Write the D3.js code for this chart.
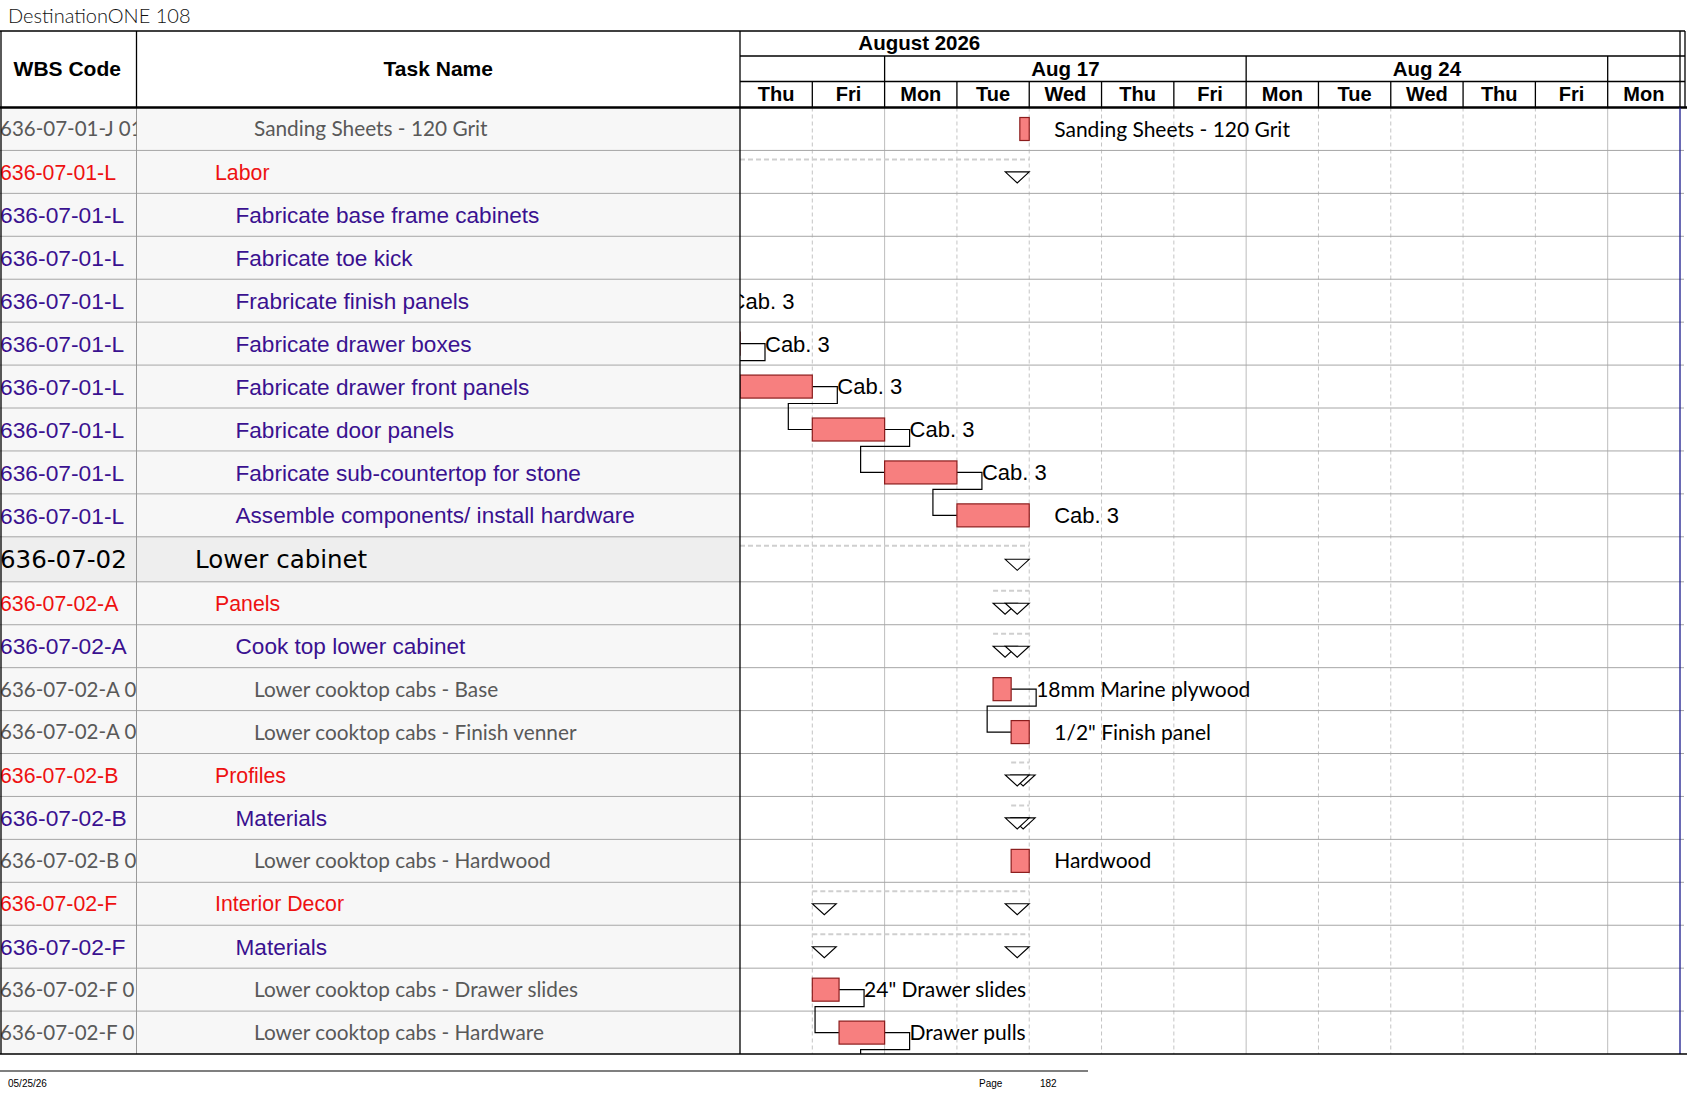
<!DOCTYPE html>
<html>
<head>
<meta charset="utf-8">
<script src="https://cdn.jsdelivr.net/npm/d3@7"></script>
<style>
  body { margin: 0; background: #fff; }
  svg { display: block; }
</style>
</head>
<body>
<svg id="chart"></svg>
<script>
// timescale (working days only, weekends hidden)
const monthLabel = "August 2026";
const days = ["Thu", "Fri", "Mon", "Tue", "Wed", "Thu", "Fri", "Mon", "Tue", "Wed", "Thu", "Fri", "Mon"];
const weekLabels = ["", "Aug 17", "Aug 24", ""];

// table rows
const wbsCodes = [
  "636-07-01-J 01", "636-07-01-L", "636-07-01-L", "636-07-01-L", "636-07-01-L",
  "636-07-01-L", "636-07-01-L", "636-07-01-L", "636-07-01-L", "636-07-01-L",
  "636-07-02", "636-07-02-A", "636-07-02-A", "636-07-02-A 0", "636-07-02-A 0",
  "636-07-02-B", "636-07-02-B", "636-07-02-B 0", "636-07-02-F", "636-07-02-F",
  "636-07-02-F 0", "636-07-02-F 0"
];
const taskNames = [
  "Sanding Sheets - 120 Grit", "Labor", "Fabricate base frame cabinets", "Fabricate toe kick",
  "Frabricate finish panels", "Fabricate drawer boxes", "Fabricate drawer front panels",
  "Fabricate door panels", "Fabricate sub-countertop for stone", "Assemble components/ install hardware",
  "Lower cabinet", "Panels", "Cook top lower cabinet", "Lower cooktop cabs - Base",
  "Lower cooktop cabs - Finish venner", "Profiles", "Materials", "Lower cooktop cabs - Hardwood",
  "Interior Decor", "Materials", "Lower cooktop cabs  - Drawer slides", "Lower cooktop cabs - Hardware"
];
const outlineLevel = [4, 2, 3, 3, 3, 3, 3, 3, 3, 3, 1, 2, 3, 4, 4, 2, 3, 4, 2, 3, 4, 4];
const isSummary = [false, true, false, false, false, false, false, false, false, false,
  true, true, true, false, false, true, true, false, true, true, false, false];

// schedule in working days from Thu Aug 13
const startDay = [3.87, -3, -3.5, -2.5, -1.49, -1, 0, 1, 2, 3, -3, 3.5, 3.5, 3.5, 3.75, 3.75, 3.75, 3.75, 1, 1, 1, 1.37];
const endDay   = [4, 4, -2.5, -1.5, -0.49, 0, 1, 2, 3, 4, 4, 4, 4, 3.75, 4, 4, 4, 4, 4, 4, 1.37, 2];
const barLabels = [
  "Sanding Sheets - 120 Grit", null, "Cab. 3", "Cab. 3", "Cab. 3", "Cab. 3", "Cab. 3", "Cab. 3",
  "Cab. 3", "Cab. 3", null, null, null, "18mm Marine plywood", "1/2\" Finish panel", null, null,
  "Hardwood", null, null, "24\" Drawer slides", "Drawer pulls"
];
// finish-to-start links [from, to]; to === rows length means the next page
const links = [[2, 3], [3, 4], [4, 5], [5, 6], [6, 7], [7, 8], [8, 9], [13, 14], [20, 21], [21, 22]];
const nextPageStart = 2;

const footerDate = "05/25/26";
const pageNo = "182";
const title = "DestinationONE 108";

// ---------- layout ----------
const W = 1687, H = 1097;
const tableTop = 31, headTop = 107.5;
const col1 = 136.5, chartLeft = 740, chartRight = 1680;
const rowH = 42.93, bigRowH = 45;

const svg = d3.select("#chart").attr("width", W).attr("height", H)
  .style("font-family", "'Liberation Sans', Arial, sans-serif");

const x = d3.scaleLinear().domain([0, days.length]).range([chartLeft, chartRight]);

const heights = outlineLevel.map(l => l === 1 ? bigRowH : rowH);
const rowTop = heights.map((h, i) => headTop + d3.sum(heights.slice(0, i)));
const bottom = headTop + d3.sum(heights);
const rows = d3.range(wbsCodes.length);

const styles = {
  1: { fill: "#000", font: "'DejaVu Sans', Verdana, sans-serif", size: 24.5, codeSize: 24.5, indent: 195, bg: "#eeeeee" },
  2: { fill: "#ee1111", font: "'Liberation Sans', Arial, sans-serif", size: 21.3, codeSize: 21.3, indent: 215, bg: "#f7f7f7" },
  3: { fill: "#3a1190", font: "'Liberation Sans', Arial, sans-serif", size: 22.6, codeSize: 22.8, indent: 235.5, bg: "#f7f7f7" },
  4: { fill: "#595959", font: "Lato, 'Open Sans', sans-serif", size: 20.8, codeSize: 20.5, indent: 254, bg: "#f7f7f7" }
};

const defs = svg.append("defs");
defs.append("clipPath").attr("id", "clipWbs").append("rect")
  .attr("x", 0).attr("y", headTop).attr("width", col1).attr("height", bottom - headTop);
defs.append("clipPath").attr("id", "clipTask").append("rect")
  .attr("x", col1).attr("y", headTop).attr("width", chartLeft - col1).attr("height", bottom - headTop);
defs.append("clipPath").attr("id", "clipChart").append("rect")
  .attr("x", chartLeft).attr("y", headTop).attr("width", chartRight - chartLeft).attr("height", bottom - headTop);

// title
svg.append("text").attr("x", 8).attr("y", 23)
  .style("font-family", "Lato, sans-serif").style("font-weight", 300)
  .style("font-size", "20px").attr("fill", "#111").text(title);

// table backgrounds
svg.append("g").selectAll("rect").data(rows).join("rect")
  .attr("x", 0).attr("y", i => rowTop[i]).attr("width", chartLeft).attr("height", i => heights[i])
  .attr("fill", i => styles[outlineLevel[i]].bg);

// vertical grid in chart
const grid = svg.append("g");
grid.selectAll("line").data(d3.range(1, days.length)).join("line")
  .attr("x1", d => x(d)).attr("x2", d => x(d))
  .attr("y1", headTop).attr("y2", bottom)
  .attr("stroke", d => days[d] === "Mon" ? "#bdbdbd" : "#c4c4c4")
  .attr("stroke-dasharray", d => days[d] === "Mon" ? null : "4,3");

// horizontal row lines
svg.append("g").selectAll("line").data(rows.slice(1)).join("line")
  .attr("x1", 0).attr("x2", chartRight + 4)
  .attr("y1", i => rowTop[i]).attr("y2", i => rowTop[i])
  .attr("stroke", "#a6a6a6");

// table column line
svg.append("line").attr("x1", col1).attr("x2", col1).attr("y1", headTop).attr("y2", bottom).attr("stroke", "#9a9a9a");

// WBS codes
svg.append("g").attr("clip-path", "url(#clipWbs)")
  .selectAll("text").data(rows).join("text")
  .attr("x", 0).attr("y", i => rowTop[i] + heights[i] / 2).attr("dy", "0.36em")
  .style("font-family", i => styles[outlineLevel[i]].font)
  .style("font-size", i => styles[outlineLevel[i]].codeSize + "px")
  .attr("fill", i => styles[outlineLevel[i]].fill)
  .text(i => wbsCodes[i]);

// task names
svg.append("g").attr("clip-path", "url(#clipTask)")
  .selectAll("text").data(rows).join("text")
  .attr("x", i => styles[outlineLevel[i]].indent).attr("y", i => rowTop[i] + heights[i] / 2).attr("dy", "0.36em")
  .style("font-family", i => styles[outlineLevel[i]].font)
  .style("font-size", i => styles[outlineLevel[i]].size + "px")
  .attr("fill", i => styles[outlineLevel[i]].fill)
  .text(i => taskNames[i]);

// ---------- gantt ----------
const gantt = svg.append("g").attr("clip-path", "url(#clipChart)");
const midY = i => i < rows.length ? rowTop[i] + heights[i] / 2 : bottom + rowH / 2;

// summary rows: dashed line + triangles
const sums = rows.filter(i => isSummary[i]);
gantt.append("g").selectAll("line").data(sums).join("line")
  .attr("x1", i => Math.max(x(startDay[i]), chartLeft)).attr("x2", i => x(endDay[i]))
  .attr("y1", i => rowTop[i] + 9).attr("y2", i => rowTop[i] + 9)
  .attr("stroke", "#cfcfcf").attr("stroke-width", 2).attr("stroke-dasharray", "5,3");

const tri = (x0, y0) => `M${x0},${y0}L${x0 + 24},${y0}L${x0 + 12},${y0 + 11}Z`;
const triData = [];
sums.forEach(i => {
  const y0 = rowTop[i] + heights[i] / 2;
  triData.push({ x0: x(startDay[i]), y0 });
  triData.push({ x0: x(endDay[i]) - 24, y0 });
});
gantt.append("g").selectAll("path").data(triData).join("path")
  .attr("d", d => tri(d.x0, d.y0))
  .attr("fill", "#fff").attr("stroke", "#000").attr("stroke-width", 1.1);

// links
const linkPath = ([a, b]) => {
  const xe = x(endDay[a]) + 25;
  const xs = b < rows.length ? x(startDay[b]) : x(nextPageStart);
  const yd = rowTop[a] + heights[a] - 4.5;
  return `M${x(endDay[a])},${midY(a)}H${xe}V${yd}H${xs - 24}V${midY(b)}H${xs}`;
};
gantt.append("g").selectAll("path").data(links).join("path")
  .attr("d", linkPath).attr("fill", "none").attr("stroke", "#000").attr("stroke-width", 1.2);

// task bars
const tasks = rows.filter(i => !isSummary[i]);
gantt.append("g").selectAll("rect").data(tasks).join("rect")
  .attr("x", i => x(startDay[i])).attr("width", i => x(endDay[i]) - x(startDay[i]))
  .attr("y", i => rowTop[i] + 10).attr("height", i => 23)
  .attr("fill", "#f77f7f").attr("stroke", "#8b1c1c").attr("stroke-width", 1.2);

// bar labels
gantt.append("g").selectAll("text").data(tasks.filter(i => barLabels[i])).join("text")
  .attr("x", i => x(endDay[i]) + 25).attr("y", i => midY(i)).attr("dy", "0.36em")
  .style("font-family", i => outlineLevel[i] === 4 ? "Lato, sans-serif" : "'Liberation Sans', Arial, sans-serif")
  .style("font-size", i => outlineLevel[i] === 4 ? "21px" : "22px")
  .attr("fill", "#000")
  .text(i => barLabels[i]);

// ---------- headers ----------
const head = svg.append("g");
head.append("rect").attr("x", 0).attr("y", tableTop).attr("width", chartRight + 5).attr("height", headTop - tableTop).attr("fill", "#fff");
const hline = (x1, x2, y, w) => head.append("line").attr("x1", x1).attr("x2", x2).attr("y1", y).attr("y2", y).attr("stroke", "#000").attr("stroke-width", w || 1.3);
const vline = (xv, y1, y2, w, c) => head.append("line").attr("x1", xv).attr("x2", xv).attr("y1", y1).attr("y2", y2).attr("stroke", c || "#000").attr("stroke-width", w || 1.3);

hline(0, chartRight + 5, tableTop);
hline(chartLeft, chartRight + 5, 56);
hline(chartLeft, chartRight + 5, 81.5);
hline(0, W, headTop, 2.6);
vline(1, tableTop, bottom);
vline(col1, tableTop, headTop);
vline(chartLeft, tableTop, bottom);
vline(chartRight, tableTop, headTop);
vline(chartRight + 5, tableTop, headTop);
vline(chartRight, headTop, bottom, 1.3, "#1a1a8c");
hline(0, W, bottom, 1.6);

const bold = sel => sel.style("font-weight", "bold").attr("fill", "#000").attr("text-anchor", "middle");
bold(head.append("text")).attr("x", col1 / 2 - 1).attr("y", 68.5).attr("dy", "0.36em").style("font-size", "21px").text("WBS Code");
bold(head.append("text")).attr("x", (col1 + chartLeft) / 2).attr("y", 68.5).attr("dy", "0.36em").style("font-size", "21px").text("Task Name");
bold(head.append("text")).attr("x", x(2.48)).attr("y", 43).attr("dy", "0.36em").style("font-size", "20.5px").text(monthLabel);

// day cells
head.append("g").selectAll("line").data(d3.range(1, days.length)).join("line")
  .attr("x1", d => x(d)).attr("x2", d => x(d)).attr("y1", 81.5).attr("y2", headTop)
  .attr("stroke", "#000").attr("stroke-width", 1.3);
bold(head.append("g").selectAll("text").data(days).join("text"))
  .attr("x", (d, i) => x(i + 0.5)).attr("y", 94).attr("dy", "0.36em")
  .style("font-size", "20px").text(d => d);

// week cells
const weekEdges = [0, ...d3.range(days.length).filter(i => days[i] === "Mon"), days.length];
head.append("g").selectAll("line").data(weekEdges.slice(1, -1)).join("line")
  .attr("x1", d => x(d)).attr("x2", d => x(d)).attr("y1", 56).attr("y2", 81.5)
  .attr("stroke", "#000").attr("stroke-width", 1.3);
bold(head.append("g").selectAll("text").data(weekLabels).join("text"))
  .attr("x", (d, i) => (x(weekEdges[i]) + x(weekEdges[i + 1])) / 2).attr("y", 68.5).attr("dy", "0.36em")
  .style("font-size", "20.5px").text(d => d);

// ---------- footer ----------
svg.append("line").attr("x1", 0).attr("x2", 1088).attr("y1", 1071).attr("y2", 1071).attr("stroke", "#000").attr("stroke-width", 1.2);
const foot = svg.append("g").style("font-size", "10px").attr("fill", "#000");
foot.append("text").attr("x", 8).attr("y", 1087).text(footerDate);
foot.append("text").attr("x", 979).attr("y", 1087).text("Page");
foot.append("text").attr("x", 1040).attr("y", 1087).text(pageNo);
</script>
</body>
</html>
